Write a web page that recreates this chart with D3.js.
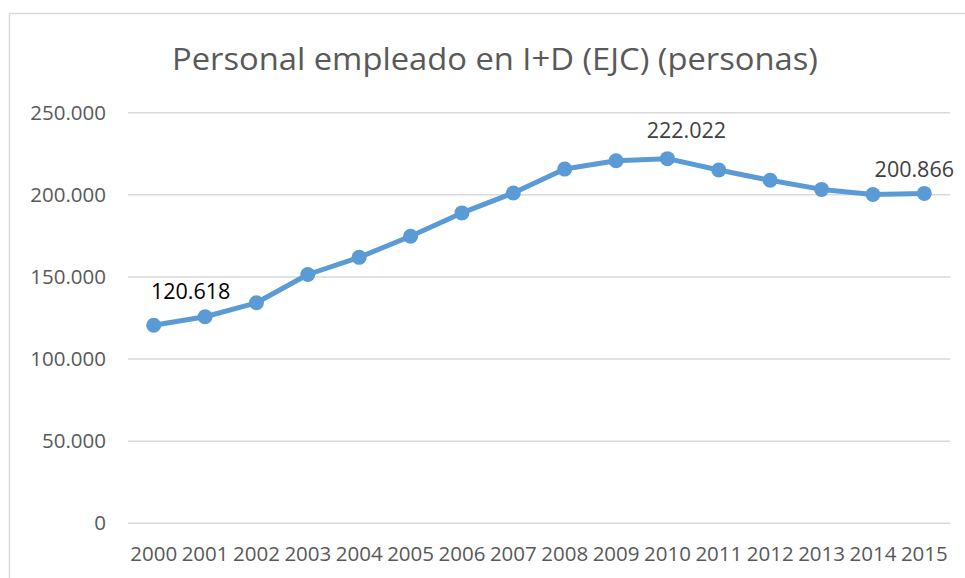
<!DOCTYPE html>
<html>

<head>
  <title>Personal empleado en I+D</title>
  <script src="https://cdn.jsdelivr.net/npm/d3@7"></script>
  <style type="text/css">
    html,
    body {
      margin: 0;
      padding: 0;
      background: #fff;
    }

    svg {
      display: block;
      font-family: "Open Sans", sans-serif;
    }

    .grid line {
      stroke: #d9d9d9;
      stroke-width: 1.6px;
    }

    .axis text {
      font-size: 20.5px;
      fill: #595959;
    }

    .line {
      fill: none;
      stroke: #5b9bd5;
      stroke-width: 5px;
      stroke-linejoin: round;
    }
  </style>
</head>

<body>
  <svg class="svg"></svg>
  <script type="text/javascript">
    var years = ['2000', '2001', '2002', '2003', '2004', '2005', '2006', '2007',
      '2008', '2009', '2010', '2011', '2012', '2013', '2014', '2015'];
    var personas = [120618, 125750, 134258, 151487, 161933, 174773, 188978, 201108,
      215676, 220777, 222022, 215079, 208831, 203302, 200233, 200866];
    var yTicks = [0, 50000, 100000, 150000, 200000, 250000];
    var labelYears = ['2000', '2010', '2015'];
    var title = 'Personal empleado en I+D (EJC) (personas)';

    var width = 965,
      height = 578;
    var plot = { left: 128, right: 950, top: 112.7, bottom: 523.3 };

    var data = years.map((y, i) => ({ year: y, value: personas[i] }));

    var svg = d3.select('.svg')
      .attr('width', width)
      .attr('height', height);

    // marco del gráfico
    svg.append('rect')
      .attr('x', 9.5)
      .attr('y', 13.5)
      .attr('width', width + 20)
      .attr('height', height + 20)
      .attr('fill', '#fff')
      .attr('stroke', '#d9d9d9')
      .attr('stroke-width', 1.5);

    // título
    svg.append('text')
      .attr('x', 495)
      .attr('y', 70)
      .attr('text-anchor', 'middle')
      .attr('font-size', 31)
      .attr('fill', '#595959')
      .attr('textLength', 646)
      .attr('lengthAdjust', 'spacingAndGlyphs')
      .text(title);

    var xScale = d3.scaleBand()
      .domain(years)
      .range([plot.left, plot.right]);

    var yScale = d3.scaleLinear()
      .domain([0, 250000])
      .range([plot.bottom, plot.top]);

    var fmt = d3.formatLocale({ decimal: ',', thousands: '.', grouping: [3], currency: ['', '€'] }).format(',');

    // líneas de cuadrícula
    svg.append('g')
      .attr('class', 'grid')
      .selectAll('line')
      .data(yTicks)
      .enter()
      .append('line')
      .attr('x1', plot.left)
      .attr('x2', plot.right)
      .attr('y1', d => yScale(d))
      .attr('y2', d => yScale(d));

    var yAxis = d3.axisLeft(yScale)
      .tickValues(yTicks)
      .tickFormat(fmt)
      .tickSize(0)
      .tickPadding(22);

    var xAxis = d3.axisBottom(xScale)
      .tickSize(0)
      .tickPadding(23);

    svg.append('g')
      .attr('class', 'y axis')
      .attr('transform', `translate(${plot.left}, 0)`)
      .call(yAxis)
      .call(g => g.select('.domain').remove());

    svg.append('g')
      .attr('class', 'x axis')
      .attr('transform', `translate(0, ${plot.bottom})`)
      .call(xAxis)
      .call(g => g.select('.domain').remove());

    svg.selectAll('.axis text')
      .attr('font-family', '"Open Sans", sans-serif');

    // línea
    var linePath = d3.line()
      .x(d => xScale(d.year) + xScale.bandwidth() / 2)
      .y(d => yScale(d.value));

    svg.append('path')
      .datum(data)
      .attr('class', 'line')
      .attr('d', linePath);

    // puntos
    svg.selectAll('.dot')
      .data(data)
      .enter()
      .append('circle')
      .attr('class', 'dot')
      .attr('cx', d => xScale(d.year) + xScale.bandwidth() / 2)
      .attr('cy', d => yScale(d.value))
      .attr('r', 7.5)
      .attr('fill', '#5b9bd5');

    // etiquetas de datos
    var labelShift = {
      '2000': { dx: 37, dy: -26, color: '#000' },
      '2010': { dx: 19, dy: -21, color: '#404040' },
      '2015': { dx: -10, dy: -16, color: '#404040' }
    };

    svg.selectAll('.label')
      .data(data.filter(d => labelYears.includes(d.year)))
      .enter()
      .append('text')
      .attr('class', 'label')
      .attr('x', d => xScale(d.year) + xScale.bandwidth() / 2 + labelShift[d.year].dx)
      .attr('y', d => yScale(d.value) + labelShift[d.year].dy)
      .attr('text-anchor', 'middle')
      .attr('font-size', 21.5)
      .attr('fill', d => labelShift[d.year].color)
      .text(d => fmt(d.value));
  </script>
</body>

</html>
